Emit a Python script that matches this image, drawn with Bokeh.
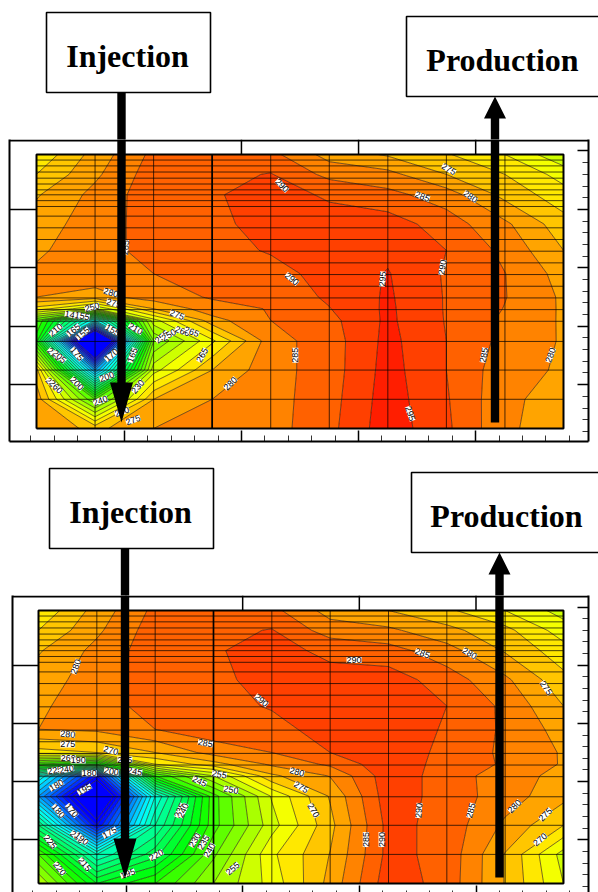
import numpy as np
from bokeh.plotting import figure
from bokeh.layouts import column
from bokeh.models import ColumnDataSource, FixedTicker, LinearAxis, Range1d
from bokeh.core.properties import value
from bokeh.embed import file_html
from bokeh.resources import INLINE

# contour-node coordinates
col_pos = [0, 1, 2, 3, 4, 5, 6, 7, 8, 9]
row_pos = [0, 1, 2, 3, 3.7, 4.1, 4.5, 5.3, 6.1, 7, 8, 8.7, 9.38]

# Upper panel: temperature by column
top_c0 = [279, 278, 272, 232, 240, 268, 280, 281, 279, 277.5, 274.5, 270, 266]
top_c1 = [273.5, 240, 175, 100, 190, 255, 278, 283, 283.5, 282.5, 281.5, 279, 277]
top_c2 = [280, 275, 258, 245, 258, 275, 282.5, 285, 286.3, 287.2, 287.9, 287.6, 286.3]
top_c3 = [281.5, 280, 275, 264, 278, 283, 285.5, 287.5, 288, 289, 289.6, 288.5, 287.5]
top_c4 = [283, 283, 283, 283, 285, 285.3, 286.5, 288, 290.5, 291.5, 291.5, 290.3, 286.5]
top_c5 = [288.5, 288, 287.5, 287.5, 288.5, 289.8, 290.8, 292, 292, 291.5, 289.5, 283.5, 278]
top_c6 = [298, 297.5, 297, 296.5, 296, 295.9, 295.7, 295.3, 294, 292.5, 286.5, 281.6, 274.4]
top_c7 = [291, 290.5, 290, 290, 289.7, 289.6, 289.6, 289.4, 290, 287.5, 282.5, 275, 270.5]
top_c8 = [281, 281.3, 282, 283.5, 284, 284.8, 285.2, 285.1, 283.7, 281, 273.5, 270, 265]
top_c9 = [277, 277.5, 279.3, 279.5, 279.4, 279.3, 279.2, 278, 275, 272, 267, 263, 256]

# Lower panel: temperature by column
low_c0 = [255, 240, 210, 175, 195, 235, 268, 280, 279, 277.5, 274.5, 270, 266]
low_c1 = [225, 200, 150, 125, 150, 225, 270, 281, 283.5, 282.5, 281.5, 279, 277]
low_c2 = [235, 218, 205, 195, 235, 265, 275, 285, 286.3, 287.2, 287.9, 287.6, 286.3]
low_c3 = [250, 244, 238, 238, 255, 273, 282, 288, 288, 289, 289.6, 288.5, 287.5]
low_c4 = [262, 264, 258, 260.5, 274, 281, 285, 288, 290.5, 291.5, 291.5, 290.3, 286.5]
low_c5 = [276.7, 275.2, 273.5, 275.5, 280.3, 286, 290, 292.5, 292.3, 291.5, 289, 282.5, 278]
low_c6 = [293, 291.6, 291.7, 293, 293, 293.5, 294, 294.5, 294, 292.5, 287, 281, 275]
low_c7 = [288, 288.3, 288.2, 287.8, 287.8, 288, 288.3, 289.2, 290, 287.5, 282, 276.5, 271]
low_c8 = [274.7, 274.7, 279, 282.5, 282.2, 284.4, 284.1, 284.2, 283.9, 281, 274.5, 271.5, 265]
low_c9 = [260, 258, 270, 276.5, 278.5, 279.5, 279.5, 278, 275, 271.5, 267, 262.5, 258]

levels = [50] + list(range(145, 310, 5))

# Mesh lines
grid_cols = [0, 1, 2, 3, 4, 5, 6, 7, 8, 9]
grid_rows = [0, 1, 2, 2.98, 3.67, 4.07, 4.47, 4.87, 5.27, 5.67, 6.07, 6.47, 6.87, 7.27,
             7.6, 7.8, 8.0, 8.17, 8.37, 8.57, 8.78, 8.99, 9.19, 9.38]

# Contour labels: column, row, text, angle
top_lab_x = [4.19, 4.36, 1.52, 1.27, 1.32, 2.4, 0.95, 0.61, 0.78, 0.33, 0.63, 0.79, 1.3, 1.69, 2.14, 2.26, 2.49, 2.65, 2.83,
             0.3, 0.39, 0.69, 1.28, 1.64, 1.2, 1.73, 0.69, 0.27, 0.33, 1.09, 1.65, 1.46, 3.31,
             7.04, 6.59, 7.41, 4.42, 5.91, 6.93, 7.64, 8.78, 6.38]
top_lab_y = [8.32, 5.12, 6.2, 4.65, 4.29, 3.89, 4.15, 3.89, 3.85, 3.37, 3.37, 3.25, 3.37, 3.41, 3.14, 3.2, 3.33, 3.31, 2.51,
             2.55, 2.46, 2.55, 2.51, 2.51, 1.77, 1.43, 1.54, 1.52, 1.43, 0.95, 0.29, 0.57, 1.54,
             8.88, 7.94, 7.94, 2.51, 5.12, 5.52, 2.51, 2.51, 0.51]
top_lab_t = ["290", "290", "285", "280", "275", "275", "250", "145", "155", "210", "165", "155", "155", "210", "255", "250", "260", "265", "265",
             "215", "205", "175", "170", "165", "200", "230", "200", "265", "260", "240", "275", "270", "280",
             "275", "285", "280", "285", "295", "290", "285", "280", "295"]
top_lab_a = [-45, -40, 85, -15, -15, -20, 15, -10, -10, 40, 40, 40, -30, -30, 40, 30, -20, -20, 60,
             -40, -40, -50, 40, 70, 20, 50, -45, -45, -45, 20, 20, 20, 45,
             -30, -20, -35, 90, 85, 80, 80, 70, -70]

low_lab_x = [0.64, 3.82, 0.5, 0.5, 1.24, 0.51, 0.68, 1.48, 0.28, 0.48, 0.87, 1.25, 1.65, 0.31, 0.79, 2.86, 3.1, 3.3, 2.76,
             2.42, 2.48, 0.34, 0.57, 1.22, 0.2, 0.66, 0.74, 2.68, 2.83, 2.93, 2.02, 0.36, 0.79, 1.53, 3.33,
             5.41, 6.58, 7.39, 8.7, 4.43, 4.5, 4.71, 5.61, 5.88, 6.52, 7.41, 8.16, 8.69, 8.6]
low_lab_y = [7.45, 6.29, 5.13, 4.78, 4.57, 4.31, 4.23, 4.26, 3.89, 3.92, 3.79, 3.85, 3.85, 3.37, 3.23, 4.82, 3.75, 3.22, 3.51,
             2.51, 2.51, 2.49, 2.51, 1.75, 1.43, 1.6, 1.54, 1.49, 1.41, 1.14, 0.97, 0.51, 0.66, 0.34, 0.51,
             7.68, 7.91, 7.91, 6.72, 3.83, 3.31, 2.51, 1.51, 1.51, 2.51, 2.51, 2.65, 2.37, 1.51]
low_lab_t = ["280", "290", "280", "275", "270", "260", "190", "255", "225", "240", "180", "200", "245", "180", "195", "285", "255", "250", "245",
             "235", "240", "180", "170", "175", "225", "205", "190", "230", "235", "240", "220", "220", "215", "195", "255",
             "290", "285", "280", "275", "280", "275", "270", "285", "290", "290", "285", "280", "275", "270"]
low_lab_a = [70, -40, -5, 0, -15, 0, 0, 0, 10, 10, 0, -10, -10, 30, 30, -10, -10, -10, -25,
             65, 65, -50, -50, 30, -50, -40, -40, 60, 60, 60, 30, -50, -50, 20, 40,
             0, -20, -30, -55, -15, -30, -60, 90, 90, 85, 75, 45, 45, 40]


def band_color(v):
    stops = [(150, (0, 0, 255)), (190, (0, 255, 255)), (230, (0, 255, 0)), (264, (255, 255, 0)), (302, (255, 0, 0))]
    if v <= stops[0][0]:
        return "#0000ff"
    for (a, ca), (b, cb) in zip(stops, stops[1:]):
        if v <= b:
            t = (v - a) / (b - a)
            return "#%02x%02x%02x" % tuple(int(round(p + t * (q - p))) for p, q in zip(ca, cb))
    return "#ff0000"


fill_colors = [band_color((a + b) / 2) for a, b in zip(levels, levels[1:])]
WIDTH = 598


def panel(columns, labs, geo):
    L, R, T, B, FL, FR, FT, FB, top_off, fig_h = geo
    sx = (R - L) / 9.0
    sy = (B - T) / 9.38
    y_top = (B - FT) / sy
    y_bot = (B - FB) / sy
    x_l = (FL - L) / sx
    x_r = (FR - L) / sx
    p = figure(width=WIDTH, height=fig_h, output_backend="svg", toolbar_location=None,
               x_axis_type=None, y_axis_type=None,
               x_range=Range1d(x_l, x_r), y_range=Range1d(y_bot, y_top),
               min_border_left=FL, min_border_right=WIDTH - FR,
               min_border_top=0, min_border_bottom=top_off + fig_h - FB,
               outline_line_color=None, background_fill_color="white", border_fill_color="white")
    p.grid.visible = False

    z = np.array(columns, dtype=float).T
    p.contour(np.array(col_pos, float), np.array(row_pos, float), z, levels,
              fill_color=fill_colors, line_color="#201000", line_width=0.6)

    xs = [[c, c] for c in grid_cols] + [[0, 9] for _ in grid_rows]
    ys = [[0, 9.38] for _ in grid_cols] + [[r, r] for r in grid_rows]
    p.multi_line(xs, ys, line_color="black", line_width=0.8, line_alpha=0.9)
    p.multi_line([[3, 3]], [[0, 9.38]], line_color="black", line_width=1.7)
    p.multi_line([[0, 9, 9, 0, 0]], [[0, 0, 9.38, 9.38, 0]], line_color="black", line_width=2)

    lx, ly, lt, la = labs
    src = ColumnDataSource(dict(x=lx, y=ly, t=lt, a=la))
    p.text("x", "y", text="t", angle="a", angle_units="deg", source=src, text_font=value("Liberation Sans"),
           text_font_size="9px", text_align="center", text_baseline="middle", text_color="black",
           background_fill_color="white")

    major_x = [1.5, 3.5, 5.5, 7.5]
    major_y = [1.5, 3.5, 5.5, 7.5]
    major_r = [1.5, 3.5, 5.5, 7.5, 9.5]
    minor = [round(v, 2) for v in np.arange(-0.1, 9.95, 0.4)]
    clipped = FB - B < 13
    for side, ticks, mn, tick_len, minor_len, show_line in (
            ("left", major_y, [], L - FL, 0, True),
            ("right", major_r, minor, 11, 6, True),
            ("below", major_x, minor, FB - B - 2 if clipped else 11, 2 if clipped else 6, not clipped)):
        ax = LinearAxis(ticker=FixedTicker(ticks=ticks, minor_ticks=mn),
                        major_label_overrides={t: "" for t in ticks}, major_label_standoff=0,
                        major_tick_in=tick_len, major_tick_out=0, minor_tick_in=minor_len, minor_tick_out=0,
                        major_tick_line_color="black", major_tick_line_width=1.5,
                        minor_tick_line_color="black" if mn else None, minor_tick_line_width=0.8,
                        axis_line_color="black" if show_line else None, axis_line_width=2)
        p.add_layout(ax, side)

    # top edge of the outer frame and its ticks
    edge = y_top - 1.0 / sy
    p.multi_line([[x_l, x_r]], [[edge, edge]], line_color="black", line_width=2)
    p.multi_line([[t, t] for t in major_x], [[y_top, 9.38] for _ in major_x], line_color="black", line_width=1.5)

    dx = lambda px: (px - L) / sx
    dy = lambda py: (B - py) / sy
    return p, dx, dy


def header(height, offset):
    h = figure(width=WIDTH, height=height, output_backend="svg", toolbar_location=None,
               x_axis_type=None, y_axis_type=None,
               x_range=Range1d(0, WIDTH), y_range=Range1d(offset + height, offset),
               min_border_left=0, min_border_right=0, min_border_top=0, min_border_bottom=0,
               outline_line_color=None, background_fill_color="white", border_fill_color="white")
    h.grid.visible = False
    return h


def box(p, x0, x1, y0, y1, text, cx, cy):
    p.patch([x0, x1, x1, x0], [y0, y0, y1, y1], fill_color="white", line_color="black", line_width=1.6)
    p.text([cx], [cy], text=[text], text_font=value("Liberation Serif"), text_font_style="bold",
           text_font_size="32px", text_align="center", text_baseline="middle", text_color="black")


def arrow_shape(p, dx, dy, xc, y_tail, y_neck, y_tip, half_shaft, half_head):
    xs = [xc - half_shaft, xc + half_shaft, xc + half_shaft, xc + half_head, xc, xc - half_head, xc - half_shaft]
    ys = [y_tail, y_tail, y_neck, y_neck, y_tip, y_neck, y_neck]
    p.patch([dx(v) for v in xs], [dy(v) for v in ys], fill_color="black", line_color="black", line_width=0)


top_cols = [top_c0, top_c1, top_c2, top_c3, top_c4, top_c5, top_c6, top_c7, top_c8, top_c9]
low_cols = [low_c0, low_c1, low_c2, low_c3, low_c4, low_c5, low_c6, low_c7, low_c8, low_c9]
same = lambda v: v

h1 = header(139, 0)
p1, dx1, dy1 = panel(top_cols, (top_lab_x, top_lab_y, top_lab_t, top_lab_a),
                     (36, 563, 154, 428, 9, 588, 139, 441, 139, 307))
for target, fx, fy in ((h1, same, same), (p1, dx1, dy1)):
    arrow_shape(target, fx, fy, 121, 92, 382, 422, 4.2, 11.5)
    arrow_shape(target, fx, fy, 494.5, 422, 118, 96, 4.2, 11)
box(h1, 46, 210, 12, 92, "Injection", 127, 55)
box(h1, 406, 600, 16, 96, "Production", 502, 59)

h2 = header(149, 446)
p2, dx2, dy2 = panel(low_cols, (low_lab_x, low_lab_y, low_lab_t, low_lab_a),
                     (38, 563, 610, 883, 12, 588, 595, 892, 595, 297))
for target, fx, fy in ((h2, same, same), (p2, dx2, dy2)):
    arrow_shape(target, fx, fy, 124.5, 548, 838, 878, 4.2, 11.5)
    arrow_shape(target, fx, fy, 499, 877, 574, 552, 4.2, 11)
box(h2, 49, 213, 468, 548, "Injection", 130, 511)
box(h2, 411, 600, 472, 552, "Production", 506, 515)

layout = column(column(h1), column(p1), column(h2), column(p2), spacing=0)
open("out.html", "w").write(file_html(layout, INLINE))
